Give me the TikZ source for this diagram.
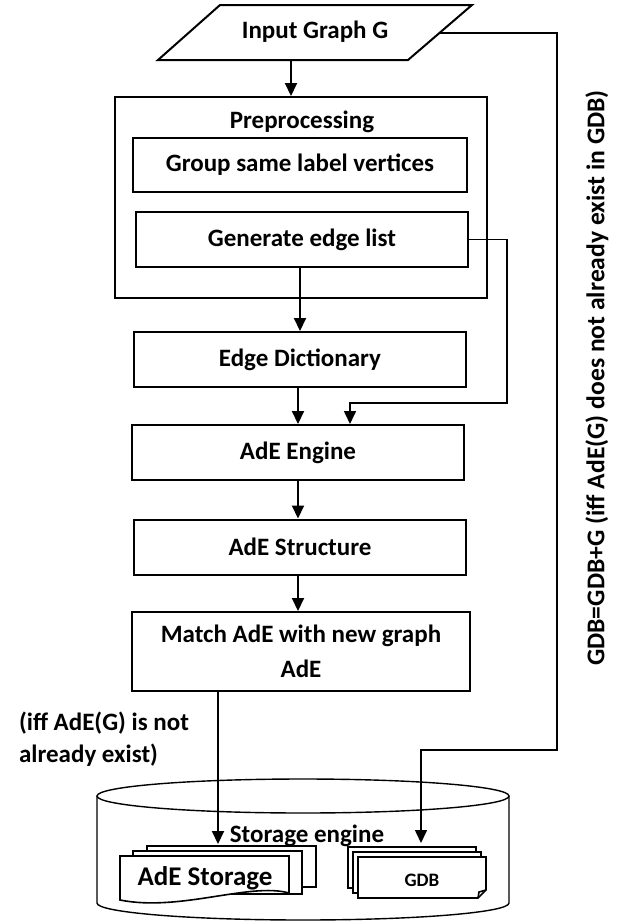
\documentclass[tikz,border=0pt]{standalone}
\usepackage{fontspec}
\setmainfont{Carlito}
\usetikzlibrary{arrows.meta}

\begin{document}
\begin{tikzpicture}[x=0.5pt,y=-0.5pt,>={Triangle[width=6pt,length=6.5pt]},
  every node/.style={font=\bfseries\fontsize{12.5}{14}\selectfont},
  block/.style={draw,line width=1pt,minimum width=166pt,minimum height=27.5pt,inner sep=0pt},
  flow/.style={->,line width=1pt},
  side/.style={->,line width=0.8pt},
  doc/.style={fill=white,line width=0.8pt}]
\useasboundingbox (0,0) rectangle (617,922);

%%%STORAGE ENGINE (cylinder)
\draw[line width=0.7pt] (303,796) ellipse [x radius=206, y radius=17];
\draw[line width=0.7pt] (97,796) -- (97,903) arc [start angle=180, end angle=0, x radius=206, y radius=17] -- (509,796);

%%%ADE STORAGE documents
\filldraw[doc] (147,846) rectangle (316,887);
\filldraw[doc] (133,851) rectangle (302,894);
\filldraw[doc] (120,856) -- (289,856) -- (289,893) .. controls (250,882) and (180,912) .. (120,900) -- cycle;
%%%GDB documents
\filldraw[doc] (348,847) rectangle (476,888);
\filldraw[doc] (353,852) rectangle (481,893);
\filldraw[doc] (358,857) -- (486,857) -- (486,890) -- (478,898) -- (358,898) -- cycle;
\draw[line width=0.8pt] (478,898) -- (479,892) -- (486,890);

%%%INPUT
\draw[line width=1pt] (220,5) -- (472,5) -- (408,60) -- (158,60) -- cycle;
\node (input) at (315,32) {Input Graph G};
\coordinate (inB) at (291,60);
\coordinate (inR) at (439,33);

%%%PREPROCESSING
\node[block,minimum width=186pt,minimum height=100.5pt] (prep) at (301,197.5) {};
\node (pretitle) at (302,122) {Preprocessing};
\node[block,minimum width=167pt,minimum height=27pt] (group) at (300,165) {Group same label vertices};
\node[block] (edges) at (302,239.5) {Generate edge list};

%%%MAIN CHAIN
\node[block] (dict) at (300,359.5) {Edge Dictionary};
\node[block] (engine) at (298,452.5) {AdE Engine};
\node[block] (struct) at (300,547) {AdE Structure};
\node[block,minimum width=169pt,minimum height=39.5pt,align=center,
  font=\bfseries\fontsize{12.5}{17.5}\selectfont] (match) at (301,651.5) {Match AdE with new graph\\AdE};

%%%STORAGE LABELS
\node (store) at (307,836) {Storage engine};
\node[font=\bfseries\fontsize{13.5}{15}\selectfont] (adestore) at (205,878) {AdE Storage};
\node[font=\bfseries\fontsize{9.5}{11}\selectfont] (gdb) at (422,880) {GDB};
\coordinate (adein) at (218,844);
\coordinate (gdbin) at (421,843);
\coordinate (r1) at (507,403);

%%%ARROWS
\draw[flow] (inB) -- (inB |- prep.north);
\draw[flow] (edges.south -| dict) -- (dict.north);
\draw[flow] (dict.south -| engine) -- (engine.north);
\draw[flow] (engine.south) -- (struct.north -| engine);
\draw[flow] (struct.south -| engine) -- (match.north -| engine);
\draw[flow] (match.south -| adein) -- (adein);
\draw[side] (edges.east) -| (r1) -| ([xshift=26pt]engine.north);
\draw[side] (inR) -| (557,750) -| (gdbin);

%%%CONDITIONS
\node[anchor=west,align=left] (cond) at (12,739) {(iff AdE(G) is not\\[2pt]already exist)};
\node[rotate=90,font=\bfseries\fontsize{12.8}{14}\selectfont] (gdbnote) at (597,378) {GDB=GDB+G (iff AdE(G) does not already exist in GDB)};
\end{tikzpicture}
\end{document}
